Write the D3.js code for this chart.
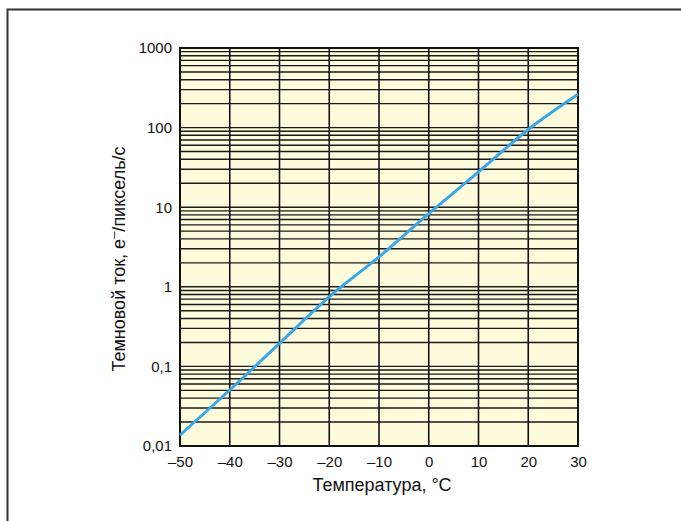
<!DOCTYPE html>
<html><head><meta charset="utf-8">
<script src="https://cdn.jsdelivr.net/npm/d3@7"></script>
<style>body{margin:0;background:#fff}svg{display:block}text{font-family:"Liberation Sans",Arial,sans-serif;fill:#111}</style>
</head><body>
<script>
const temps = [-50, -40, -30, -20, -10, 0, 10, 20, 30];
const darkCurrent = [0.0137, 0.0505, 0.195, 0.748, 2.38, 8.3, 27.7, 94.6, 262];
const xTicks = [-50, -40, -30, -20, -10, 0, 10, 20, 30];
const yTicks = [0.01, 0.1, 1, 10, 100, 1000];
const yTickLabels = ["0,01", "0,1", "1", "10", "100", "1000"];
const xTitle = "Температура, °С";

const W = 681, H = 521;
const svg = d3.select("body").append("svg").attr("width", W).attr("height", H);
const m = {l: 180, r: 578, t: 48, b: 446};
const x = d3.scaleLinear().domain([-50, 30]).range([m.l, m.r]);
const y = d3.scaleLog().domain([0.01, 1000]).range([m.b, m.t]);

// outer frame
svg.append("rect").attr("x", 7.5).attr("y", 9.5).attr("width", 800).attr("height", 700)
  .attr("fill", "none").attr("stroke", "#333").attr("stroke-width", 2);

// plot background
svg.append("rect").attr("x", m.l).attr("y", m.t).attr("width", m.r - m.l).attr("height", m.b - m.t)
  .attr("fill", "#fefbdc");

// horizontal grid (log)
const minor = [];
for (let e = -2; e < 3; e++) for (let k = 1; k <= 9; k++) minor.push(k * Math.pow(10, e));
minor.push(1000);
svg.append("g").selectAll("line").data(minor).join("line")
  .attr("x1", m.l).attr("x2", m.r)
  .attr("y1", d => y(d)).attr("y2", d => y(d))
  .attr("stroke", "#1a1a1a").attr("stroke-width", 1.4);

// vertical grid
svg.append("g").selectAll("line").data(xTicks).join("line")
  .attr("y1", m.t).attr("y2", m.b)
  .attr("x1", d => x(d)).attr("x2", d => x(d))
  .attr("stroke", "#111").attr("stroke-width", 1.6);

// frame
svg.append("rect").attr("x", m.l).attr("y", m.t).attr("width", m.r - m.l).attr("height", m.b - m.t)
  .attr("fill", "none").attr("stroke", "#111").attr("stroke-width", 2);

// axes labels
const xAxis = d3.axisBottom(x).tickValues(xTicks).tickSize(0).tickPadding(10)
  .tickFormat(d => d < 0 ? "\u2013" + Math.abs(d) : String(d));
const gx = svg.append("g").attr("transform", `translate(0,${m.b})`).call(xAxis);
gx.select(".domain").remove();
gx.selectAll("text").attr("font-size", 15).attr("fill", "#111").style("font-family", '"Liberation Sans",Arial,sans-serif');

const yAxis = d3.axisLeft(y).tickValues(yTicks).tickSize(0).tickPadding(8)
  .tickFormat((d, i) => yTickLabels[i]);
const gy = svg.append("g").attr("transform", `translate(${m.l},0)`).call(yAxis);
gy.select(".domain").remove();
gy.selectAll("text").attr("font-size", 15).attr("fill", "#111").style("font-family", '"Liberation Sans",Arial,sans-serif');

// curve
const pts = temps.map((t, i) => [t, darkCurrent[i]]);
svg.append("path").datum(pts)
  .attr("d", d3.line().x(d => x(d[0])).y(d => y(d[1])).curve(d3.curveMonotoneX))
  .attr("fill", "none").attr("stroke", "#3aa8e8").attr("stroke-width", 3);

// titles
svg.append("text").attr("x", 382).attr("y", 491).attr("text-anchor", "middle")
  .attr("font-size", 18).text(xTitle);

const yt = svg.append("text").attr("transform", "translate(125,259) rotate(-90)")
  .attr("text-anchor", "middle").attr("font-size", 18);
yt.append("tspan").text("Темновой ток, е");
yt.append("tspan").attr("dy", -7).attr("font-size", 13).text("\u2013");
yt.append("tspan").attr("dy", 7).text("/пиксель/с");
</script>
</body></html>
